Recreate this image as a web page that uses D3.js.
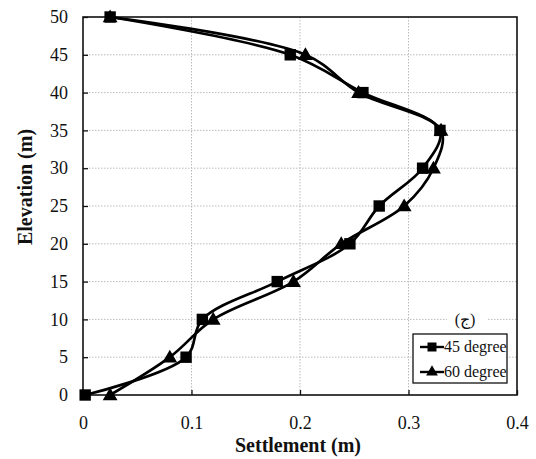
<!DOCTYPE html>
<html>
<head>
<meta charset="utf-8">
<script src="https://cdn.jsdelivr.net/npm/d3@7"></script>
</head>
<body style="margin:0; background:#fff">
<script>
let elevation = [0, 5, 10, 15, 20, 25, 30, 35, 40, 45, 50]
let deg45 = [0.002, 0.095, 0.110, 0.179, 0.246, 0.273, 0.313, 0.329, 0.258, 0.191, 0.025]
let deg60 = [0.025, 0.080, 0.120, 0.194, 0.238, 0.296, 0.323, 0.330, 0.254, 0.205, 0.025]
let seriesNames = ["45 degree", "60 degree"]
let xTicks = [0, 0.1, 0.2, 0.3, 0.4]
let yTicks = [0, 5, 10, 15, 20, 25, 30, 35, 40, 45, 50]

let W = 536, H = 459
let pLeft = 83, pRight = 517, pTop = 17, pBottom = 395
let fontFam = "'Liberation Serif', serif"

let svg = d3.select("body").append("svg").attr("width", W).attr("height", H)
  .attr("font-family", fontFam)

let x = d3.scaleLinear().domain([0, 0.4]).range([pLeft, pRight])
let y = d3.scaleLinear().domain([0, 50]).range([pBottom, pTop])

// grid
let grid = svg.append("g").attr("stroke", "#bbb").attr("stroke-width", 1).attr("stroke-dasharray", "1.5,1.5")
grid.selectAll(".gx").data(xTicks.slice(1, -1)).join("line")
  .attr("x1", d => x(d)).attr("x2", d => x(d)).attr("y1", pTop).attr("y2", pBottom)
grid.selectAll(".gy").data(yTicks.slice(1, -1)).join("line")
  .attr("x1", pLeft).attr("x2", pRight).attr("y1", d => y(d)).attr("y2", d => y(d))

// axes with inward ticks
let xAxis = svg.append("g").attr("transform", "translate(0," + pBottom + ")")
  .call(d3.axisBottom(x).tickValues(xTicks).tickSize(-5).tickPadding(21).tickFormat(d => d === 0 ? "0" : d3.format(".1f")(d)))
let yAxis = svg.append("g").attr("transform", "translate(" + pLeft + ",0)")
  .call(d3.axisLeft(y).tickValues(yTicks).tickSize(-5).tickPadding(15))
for (let a of [xAxis, yAxis]) {
  a.attr("font-family", fontFam).attr("font-size", 18)
  a.select(".domain").remove()
  a.selectAll("line").attr("stroke", "#111").attr("stroke-width", 1.3)
  a.selectAll("text").attr("font-family", fontFam).attr("font-size", 18).attr("fill", "#111")
}

// frame
svg.append("rect").attr("x", pLeft).attr("y", pTop).attr("width", pRight - pLeft).attr("height", pBottom - pTop)
  .attr("fill", "none").attr("stroke", "#111").attr("stroke-width", 1.6)

// label (ج)
svg.append("rect").attr("x", 447).attr("y", 308).attr("width", 40).attr("height", 22).attr("fill", "#fff")
svg.append("text").attr("x", 465).attr("y", 325).attr("text-anchor", "middle")
  .attr("font-family", fontFam).attr("font-size", 16).attr("fill", "#111").text("(ج)")

// series
let line = d3.line().curve(d3.curveCatmullRom.alpha(0.5))
let series = [deg45, deg60]
series.forEach((vals, k) => {
  let pts = vals.map((v, i) => [x(v), y(elevation[i])])
  svg.append("path").datum(pts).attr("d", line)
    .attr("fill", "none").attr("stroke", "#000").attr("stroke-width", 2.7)
})
let sq = d3.symbol().type(d3.symbolSquare).size(130)
let tri = d3.symbol().type(d3.symbolTriangle).size(95)
svg.append("g").selectAll("path").data(deg60).join("path")
  .attr("d", tri).attr("fill", "#000")
  .attr("transform", (d, i) => "translate(" + x(d) + "," + (y(elevation[i]) + 1) + ")")
svg.append("g").selectAll("path").data(deg45).join("path")
  .attr("d", sq).attr("fill", "#000")
  .attr("transform", (d, i) => "translate(" + x(d) + "," + y(elevation[i]) + ")")

// legend
let lg = svg.append("g")
lg.append("rect").attr("x", 413).attr("y", 334).attr("width", 94).attr("height", 49)
  .attr("fill", "#fff").attr("stroke", "#111").attr("stroke-width", 1.3)
seriesNames.forEach((name, k) => {
  let ly = 347 + k * 25
  lg.append("line").attr("x1", 420).attr("x2", 444).attr("y1", ly).attr("y2", ly)
    .attr("stroke", "#000").attr("stroke-width", 2.4)
  lg.append("path").attr("d", k === 0 ? d3.symbol().type(d3.symbolSquare).size(81)() : d3.symbol().type(d3.symbolTriangle).size(60)())
    .attr("transform", "translate(432," + ly + ")").attr("fill", "#000")
  lg.append("text").attr("x", 444).attr("y", ly + 5).attr("font-family", fontFam)
    .attr("font-size", 16).attr("fill", "#111").text(name)
})

// axis titles
svg.append("text").attr("x", 298).attr("y", 452).attr("text-anchor", "middle").attr("font-family", fontFam)
  .attr("font-size", 20).attr("font-weight", "bold").attr("fill", "#111").text("Settlement (m)")
svg.append("text").attr("transform", "translate(32,187) rotate(-90)").attr("font-family", fontFam)
  .attr("text-anchor", "middle").attr("font-size", 20).attr("font-weight", "bold").attr("fill", "#111").text("Elevation (m)")
</script>
</body>
</html>
